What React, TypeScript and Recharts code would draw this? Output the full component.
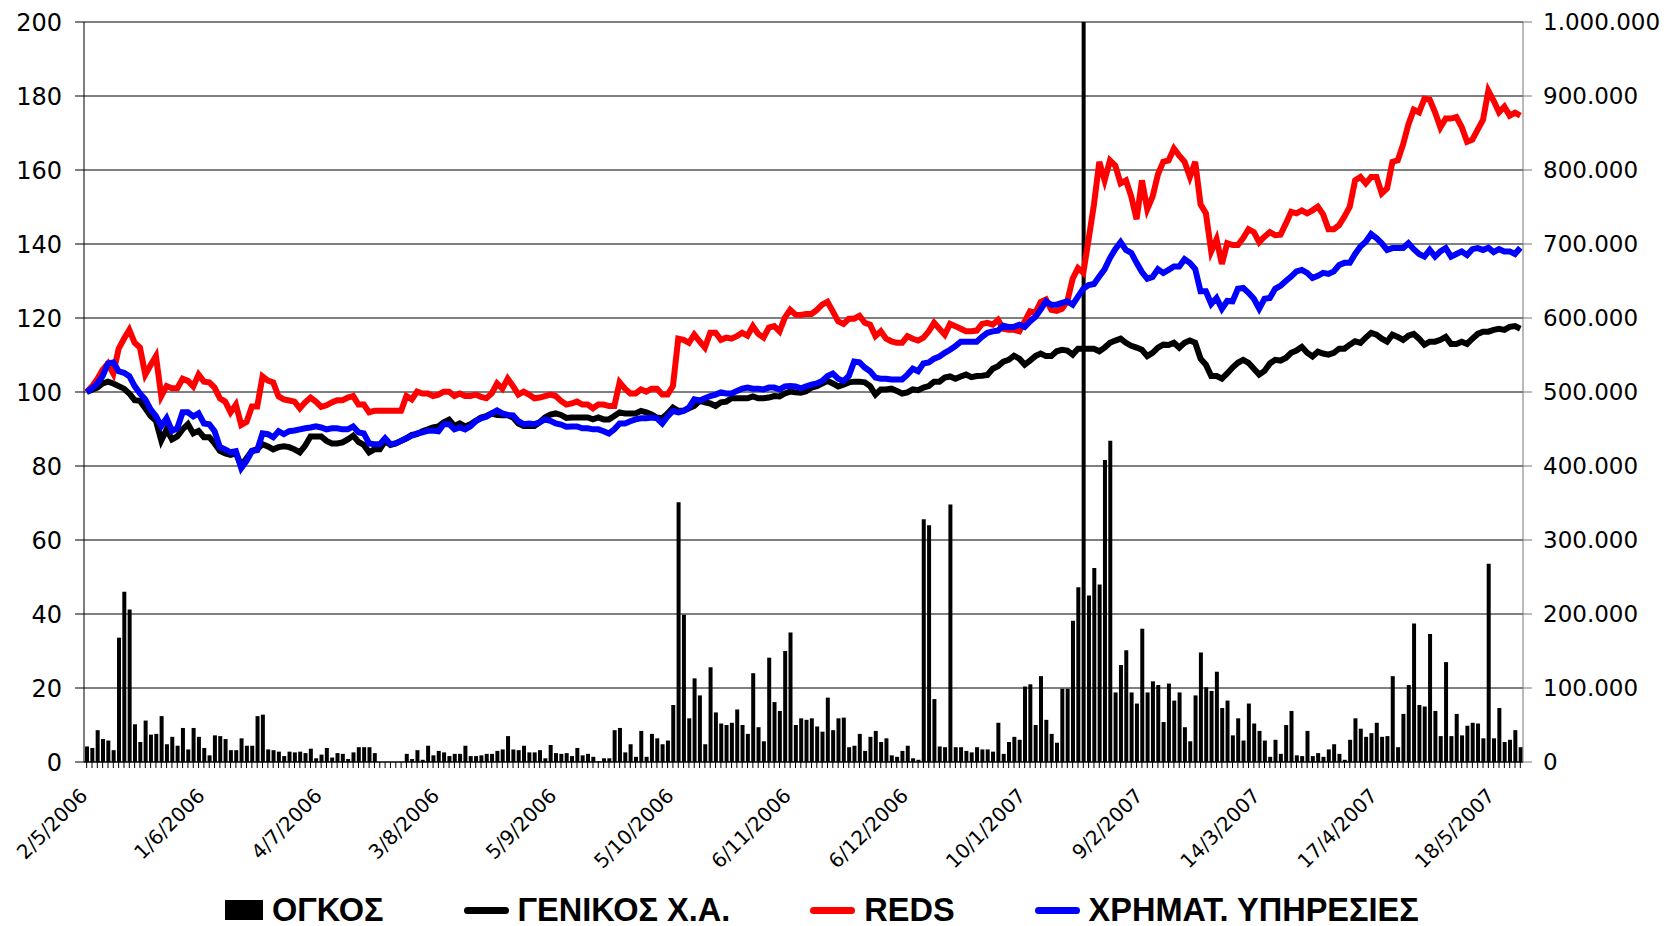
import React from 'react';
import { ComposedChart, Bar, Line, XAxis, YAxis, CartesianGrid, Legend } from 'recharts';

document.body.style.margin = '0';

// date labels, one every 22 trading sessions
const tickLabels = [
  '2/5/2006', '1/6/2006', '4/7/2006', '3/8/2006', '5/9/2006', '5/10/2006', '6/11/2006',
  '6/12/2006', '10/1/2007', '9/2/2007', '14/3/2007', '17/4/2007', '18/5/2007',
];
const labelStep = 22;

// ΟΓΚΟΣ (thousands of shares)
const volume = [
  21, 19, 43, 31, 29, 16, 168, 230, 206, 51,
  27, 56, 37, 38, 62, 24, 34, 22, 46, 17,
  46, 34, 19, 9, 36, 35, 31, 16, 16, 32,
  22, 22, 62, 64, 17, 16, 14, 8, 14, 13,
  14, 12, 18, 5, 10, 19, 6, 12, 11, 4,
  13, 20, 20, 20, 12, 0, 0, 0, 0, 0,
  11, 4, 16, 3, 22, 9, 15, 13, 8, 11,
  11, 22, 8, 8, 9, 11, 11, 15, 17, 35,
  17, 16, 22, 13, 13, 16, 5, 23, 12, 11,
  12, 8, 19, 9, 11, 7, 1, 5, 5, 43,
  46, 13, 24, 7, 42, 7, 38, 32, 24, 29,
  77, 351, 199, 59, 113, 90, 24, 128, 67, 52,
  50, 53, 71, 50, 38, 120, 47, 28, 141, 81,
  69, 150, 175, 50, 59, 57, 59, 48, 41, 87,
  43, 59, 60, 20, 22, 38, 15, 34, 42, 27,
  32, 9, 7, 15, 22, 5, 3, 328, 320, 85,
  21, 20, 348, 20, 20, 15, 13, 20, 17, 17,
  14, 53, 11, 27, 34, 30, 102, 105, 50, 116,
  57, 38, 26, 99, 99, 191, 236, 1300, 225, 262,
  240, 408, 434, 94, 131, 151, 94, 79, 180, 94,
  109, 104, 54, 106, 83, 94, 47, 28, 90, 148,
  101, 96, 122, 73, 83, 36, 59, 29, 79, 52,
  42, 29, 7, 30, 11, 50, 69, 9, 8, 42,
  8, 12, 7, 17, 24, 11, 3, 30, 59, 45,
  34, 39, 53, 34, 35, 116, 20, 65, 104, 187,
  77, 75, 173, 69, 35, 135, 35, 65, 36, 49,
  53, 52, 32, 268, 32, 73, 27, 30, 43, 20,
];

// ΓΕΝΙΚΟΣ Χ.Α. (base 100)
const general = [
  100, 100.6, 101.2, 102.3, 102.8, 102.3, 101.6, 100.9, 99.6, 97.8,
  97.6, 95.6, 93.5, 92.2, 86.9, 89.9, 87.2, 88, 89.9, 91.3,
  88.8, 89.5, 87.8, 87.8, 86.1, 84.1, 83.4, 83, 83.4, 80.1,
  82.1, 84.1, 84.5, 85.9, 85.3, 84.5, 85.1, 85.3, 85.1, 84.5,
  83.7, 85.5, 88, 88, 88, 86.8, 86.1, 86.1, 86.4, 87.2,
  88.2, 86.5, 85.7, 83.7, 84.5, 84.5, 86.8, 85.7, 86.1, 86.8,
  87.5, 88.4, 88.6, 89.4, 89.9, 90.4, 90.7, 91.8, 92.5, 90.8,
  91.5, 90.7, 91.3, 92.2, 93.1, 93.5, 94.2, 93.8, 93.7, 93.7,
  93.1, 91.5, 90.8, 90.9, 90.8, 91.8, 93.1, 93.9, 94.2, 93.8,
  93, 93.1, 93.1, 93.1, 93.1, 92.6, 93.1, 92.6, 92.6, 93.5,
  94.5, 94.2, 94.2, 94.2, 94.9, 94.5, 93.9, 93.1, 92.9, 94.2,
  95.8, 94.9, 94.9, 95.6, 96.2, 97.6, 97.2, 96.9, 96.2, 97.2,
  97.4, 98.3, 98.3, 98.3, 98.3, 98.8, 98.3, 98.3, 98.5, 98.9,
  98.8, 99.6, 100.1, 99.9, 99.8, 100.2, 101.2, 101.6, 102.3, 103,
  102.3, 101.5, 102, 102.6, 102.8, 102.8, 102.6, 101.6, 99.3, 100.7,
  100.7, 100.9, 100.3, 99.6, 99.9, 100.7, 100.5, 101.2, 101.6, 102.8,
  102.8, 103.9, 104.2, 103.6, 104.2, 104.7, 104, 104.3, 104.4, 104.6,
  106.3, 107, 108.2, 108.7, 109.8, 109, 107.4, 108.5, 109.7, 110.4,
  109.7, 109.7, 111, 111.4, 111.2, 110.1, 111.7, 111.7, 111.7, 111.7,
  111, 112, 113.3, 113.9, 114.4, 113.3, 112.5, 112, 111.4, 109.7,
  110.6, 112, 112.8, 112.7, 113.3, 112, 113.3, 113.9, 113.3, 109,
  107.4, 104.3, 104.3, 103.6, 105, 106.6, 107.9, 108.7, 107.9, 106.3,
  104.7, 105.7, 107.7, 108.7, 108.5, 109.2, 110.6, 111.2, 112.2, 110.6,
  109.6, 110.9, 110.4, 110.1, 110.6, 111.7, 111.7, 112.8, 113.7, 113.3,
  114.7, 116, 115.5, 114.4, 113.6, 115.5, 114.9, 114.1, 115.2, 115.7,
  114.4, 112.8, 113.6, 113.6, 114.1, 114.9, 113, 113, 113.6, 113,
  114.4, 115.7, 116.3, 116.3, 116.8, 117.1, 116.8, 117.6, 117.8, 117.1,
];

// REDS (base 100)
const reds = [
  100, 101.5, 103.5, 106, 107.7, 105, 111.7, 114.4, 116.8, 113.3,
  112, 104.7, 107.3, 109.7, 98.9, 101.6, 101, 101, 103.6, 103,
  101.5, 104.7, 102.8, 102.6, 101.2, 98.3, 97.4, 94.5, 96.6, 91.1,
  91.9, 96.1, 96.1, 104.2, 103.1, 102.6, 98.8, 98, 97.7, 97.4,
  95.6, 97.2, 98.5, 97.4, 96, 96.4, 97.2, 97.8, 97.8, 98.5,
  98.9, 96.6, 96.6, 94.5, 94.9, 94.9, 94.9, 94.9, 94.9, 94.9,
  98.9, 98, 100.1, 99.6, 99.6, 98.9, 99.3, 100.1, 100.1, 98.9,
  99.6, 98.9, 98.9, 99.3, 98.7, 98.3, 99.6, 102.3, 100.9, 103.6,
  101.6, 99.3, 100.1, 99.3, 98.3, 98.5, 98.9, 99.3, 98.9, 97.6,
  96.6, 96.9, 97.4, 96.6, 96.6, 95.6, 96.6, 96.6, 96.2, 96.2,
  102.6, 100.9, 99.6, 99.6, 100.7, 100.1, 100.9, 100.9, 99.3, 99.3,
  101.6, 114.4, 114.1, 113.3, 115.5, 113.7, 112, 116, 116, 114.1,
  114.7, 114.4, 115.1, 116, 115.2, 117.8, 115.7, 114.7, 117.4, 117.8,
  116.4, 120.1, 122.2, 120.9, 120.8, 121.1, 121.1, 122.2, 123.6, 124.4,
  121.8, 119.1, 118.4, 119.8, 119.8, 120.6, 118.7, 118.2, 115.1, 116.4,
  114.4, 113.7, 113.3, 113.3, 115.1, 114.4, 113.9, 114.7, 116.4, 118.7,
  117.1, 115.5, 118.4, 117.8, 117.1, 116.4, 116.4, 116.6, 118.4, 118.7,
  118.2, 119.5, 117.1, 116.8, 116.8, 116.4, 119.1, 121.8, 121.4, 124.3,
  125, 122.2, 121.9, 122.5, 124.5, 130.6, 133.5, 132.2, 141.3, 150.7,
  162.2, 157.2, 162.6, 161.2, 156.4, 157.2, 152.8, 146.7, 157.2, 149.4,
  152.8, 158.8, 162.2, 162.6, 165.8, 163.9, 162.2, 158.1, 162.2, 150.7,
  148.3, 138, 141.3, 134.6, 140.2, 139.7, 139.7, 141.6, 144, 143.2,
  140.5, 142, 143.2, 142.4, 142.5, 145.5, 148.7, 148.3, 149.1, 148.3,
  149.1, 150.1, 148, 144, 144, 145.1, 147.4, 150.1, 157.2, 158.1,
  156.4, 158.1, 158.1, 153.7, 155, 162.2, 162.6, 166.9, 172.3, 176.3,
  175.6, 179.3, 179, 175.6, 171.5, 173.9, 173.9, 174.3, 171.6, 167.6,
  168.2, 170.9, 173.6, 181.4, 178.7, 175.6, 177.1, 174.7, 175.5, 174.7,
];

// ΧΡΗΜΑΤ. ΥΠΗΡΕΣΙΕΣ (base 100)
const financials = [
  100, 101, 102.3, 104.3, 107.7, 108, 105.6, 105.2, 104.3, 101.6,
  99.6, 98, 95.3, 93.5, 90.8, 92.9, 89.5, 90.2, 94.5, 94.5,
  93.4, 94.2, 91.5, 91.3, 89.4, 85.1, 84.5, 83.7, 84, 79.4,
  81.4, 84, 84.3, 88.8, 88.6, 87.8, 89.4, 88.6, 89.4, 89.6,
  89.9, 90.2, 90.4, 90.7, 90.4, 89.9, 90.2, 90.2, 89.9, 89.9,
  90.7, 89.1, 88.8, 86.1, 85.9, 85.9, 87.5, 85.9, 86.1, 86.8,
  87.5, 88.2, 88.8, 89.1, 89.5, 89.6, 89.4, 91.3, 91.3, 89.9,
  90.4, 89.9, 90.7, 92.1, 92.9, 93.3, 94.2, 95, 94.2, 93.8,
  93.7, 92.1, 91.3, 91.5, 91.3, 91.8, 92.6, 92.2, 91.5, 91.2,
  90.6, 90.7, 90.7, 90.2, 90.2, 89.9, 89.9, 89.4, 88.8, 89.9,
  91.5, 91.5, 92.1, 92.6, 92.9, 92.9, 93.1, 92.9, 91.5, 93.4,
  94.9, 94.5, 94.9, 95.8, 98, 97.7, 98.3, 98.9, 99.3, 99.9,
  99.6, 99.6, 100.3, 100.9, 101.2, 100.9, 100.9, 100.7, 101.2, 101.2,
  100.7, 101.5, 101.6, 101.5, 101, 101.5, 102, 102.3, 103, 104.3,
  105, 103.6, 103, 104.3, 108.2, 108, 106.6, 105.6, 103.9, 103.6,
  103.6, 103.4, 103.4, 103.4, 104.7, 106.3, 105.6, 107.7, 108, 109,
  109.6, 110.6, 111.4, 112.4, 113.6, 113.6, 113.6, 113.6, 114.9, 116,
  116.4, 116.6, 117.9, 117.6, 117.6, 118.2, 117.6, 119.1, 120.3, 122.3,
  124.5, 123.6, 123.6, 124.1, 124.5, 123.6, 125.8, 127.9, 128.9, 129.2,
  131.2, 133.2, 136.2, 138.6, 140.5, 138.4, 137.6, 134.9, 132.4, 130.6,
  131.1, 133.2, 132.2, 133, 133.9, 133.9, 135.9, 134.9, 133.2, 127.2,
  127.2, 123.8, 125.4, 122.5, 124.6, 124.5, 127.9, 128.1, 126.8, 125.2,
  122.5, 125.2, 125.4, 127.9, 128.7, 130, 131.2, 132.6, 133, 132.2,
  130.8, 131.4, 132.2, 131.9, 132.6, 134.3, 134.9, 134.9, 137.3, 139.3,
  140.6, 142.7, 141.6, 140.2, 138.4, 138.9, 138.9, 138.9, 140.2, 138.6,
  137.3, 136.6, 138.4, 136.6, 138, 138.9, 136.6, 137.3, 138, 137,
  138.6, 138.9, 138.4, 139, 137.8, 138.6, 138, 138, 137.3, 139,
];

const leftTicks = [0, 20, 40, 60, 80, 100, 120, 140, 160, 180, 200];
const rightTicks = [0, 100, 200, 300, 400, 500, 600, 700, 800, 900, 1000];

const data = volume.map((v, i) => ({
  day: i,
  label: i % labelStep === 0 ? tickLabels[i / labelStep] : '',
  volume: v,
  general: general[i],
  reds: reds[i],
  financials: financials[i],
}));

const axisFont = '"DejaVu Sans", Verdana, sans-serif';

// 1000 -> "1.000.000"
const formatVolume = (v: number) => String(v * 1000).replace(/\B(?=(\d{3})+(?!\d))/g, '.');

const DateTick = (props: any) => {
  const { x, y, payload } = props;
  const text = data[payload.value]?.label;
  if (!text) return null;
  const tx = x + 2;
  const ty = y + 27;
  return (
    <text
      x={tx}
      y={ty}
      transform={`rotate(-45 ${tx} ${ty})`}
      textAnchor="end"
      fontFamily={axisFont}
      fontSize={20}
      fill="#000"
    >
      {text}
    </text>
  );
};

const legendItems = [
  { name: 'ΟΓΚΟΣ', color: '#000', type: 'square' },
  { name: 'ΓΕΝΙΚΟΣ Χ.Α.', color: '#000', type: 'line' },
  { name: 'REDS', color: '#ff0000', type: 'line' },
  { name: 'ΧΡΗΜΑΤ. ΥΠΗΡΕΣΙΕΣ', color: '#0000ff', type: 'line' },
];

const LegendRow = () => (
  <div
    style={{
      display: 'flex',
      alignItems: 'center',
      height: 32,
      paddingLeft: 225,
      gap: 80,
      fontFamily: '"Liberation Sans", Arial, sans-serif',
      fontWeight: 'bold',
      fontSize: 32.5,
      lineHeight: '32px',
      color: '#000',
    }}
  >
    {legendItems.map((item) => (
      <div key={item.name} style={{ display: 'flex', alignItems: 'center', gap: 9 }}>
        {item.type === 'square' ? (
          <div style={{ width: 38, height: 20, background: item.color }} />
        ) : (
          <div style={{ width: 45, height: 7, borderRadius: 4, background: item.color }} />
        )}
        <span>{item.name}</span>
      </div>
    ))}
  </div>
);

const App: React.FC = () => {
  return (
    <ComposedChart
      width={1666}
      height={926}
      data={data}
      margin={{ top: 22, right: 0, bottom: 0, left: 0 }}
    >
      <CartesianGrid yAxisId="left" vertical={false} stroke="#000" />
      <XAxis
        dataKey="day"
        interval={0}
        height={132}
        tickSize={6}
        tick={<DateTick />}
        axisLine={{ stroke: '#000' }}
        tickLine={{ stroke: '#000' }}
      />
      <YAxis
        yAxisId="left"
        width={84}
        domain={[0, 200]}
        ticks={leftTicks}
        tickSize={9}
        tickMargin={13}
        axisLine={{ stroke: '#000' }}
        tickLine={{ stroke: '#000' }}
        tick={{ fill: '#000', fontSize: 24, fontFamily: axisFont }}
      />
      <YAxis
        yAxisId="right"
        orientation="right"
        width={143}
        domain={[0, 1000]}
        allowDataOverflow
        ticks={rightTicks}
        tickFormatter={formatVolume}
        tickSize={9}
        tickMargin={11}
        axisLine={{ stroke: '#777' }}
        tickLine={{ stroke: '#777' }}
        tick={{ fill: '#000', fontSize: 23, fontFamily: axisFont }}
      />
      <Legend verticalAlign="bottom" height={32} content={() => <LegendRow />} />
      <Bar yAxisId="right" dataKey="volume" name="ΟΓΚΟΣ" fill="#000" barSize={4} isAnimationActive={false} />
      <Line yAxisId="left" dataKey="general" name="ΓΕΝΙΚΟΣ Χ.Α." type="linear" stroke="#000" strokeWidth={6} dot={false} isAnimationActive={false} />
      <Line yAxisId="left" dataKey="reds" name="REDS" type="linear" stroke="#ff0000" strokeWidth={6} dot={false} isAnimationActive={false} />
      <Line yAxisId="left" dataKey="financials" name="ΧΡΗΜΑΤ. ΥΠΗΡΕΣΙΕΣ" type="linear" stroke="#0000ff" strokeWidth={6} dot={false} isAnimationActive={false} />
    </ComposedChart>
  );
};

export default App;
